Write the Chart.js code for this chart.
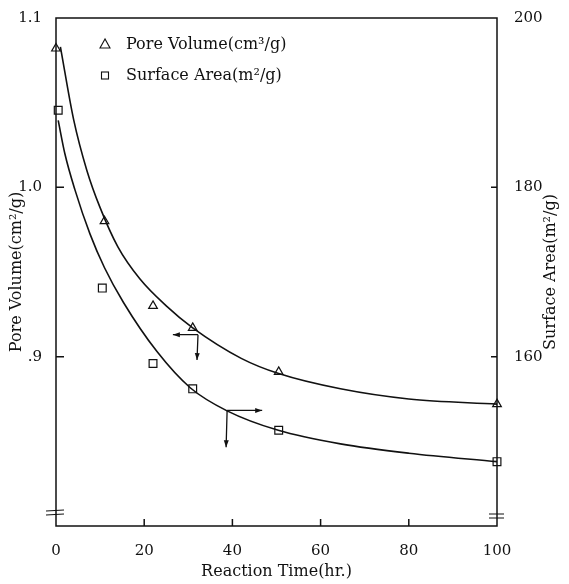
<!DOCTYPE html>
<html>
<head>
<meta charset="utf-8">
<script src="https://cdn.jsdelivr.net/npm/chart.js@4.4.0/dist/chart.umd.min.js"></script>
<style>
body { margin: 0; background: #fff; }
#wrap { width: 569px; height: 584px; }
</style>
</head>
<body>
<div id="wrap"><canvas id="poreChart"></canvas></div>
<script>
// measured points
const pvTime = [0, 11, 22, 31, 50.5, 100];
const pvValues = [1.082, 0.980, 0.930, 0.917, 0.891, 0.872];
const saTime = [0.5, 10.5, 22, 31, 50.5, 100];
const saValues = [189.1, 168.1, 159.2, 156.2, 151.3, 147.6];

// fitted curves
const pvCurveTime = [1, 4, 7, 10, 14, 19, 25, 31, 42, 50.5, 64.5, 80, 100];
const pvCurve = [1.083, 1.040, 1.010, 0.988, 0.965, 0.946, 0.930, 0.917, 0.899, 0.890, 0.881, 0.875, 0.872];
const saCurveTime = [0.5, 2, 4.3, 7.7, 11, 15.3, 22.9, 30.5, 38.8, 50.4, 64.5, 80, 100];
const saCurve = [187.9, 184.0, 179.7, 174.5, 170.5, 166.4, 160.6, 156.3, 153.6, 151.3, 149.7, 148.6, 147.6];

// axis ticks
const xTicks = [0, 20, 40, 60, 80, 100];
const pvTicks = [0.8, 0.9, 1.0, 1.1];
const pvTickLabels = ['', '.9', '1.0', '1.1'];
const saTicks = [140, 160, 180, 200];
const saTickLabels = ['', '160', '180', '200'];

const FONT = 'DejaVu Serif';
const INK = '#111';

function xy(xs, ys) {
    return xs.map((x, i) => ({ x: x, y: ys[i] }));
}

// arrows pointing to the axis each curve belongs to
const arrows = [
    { axis: 'y', x: 32.2, y: 0.913, toX: 26.5, toY: 0.898 },
    { axis: 'y2', x: 38.8, y: 153.65, toX: 46.75, toY: 149.3 }
];

function arrowHead(ctx, x1, y1, x2, y2) {
    const a = Math.atan2(y2 - y1, x2 - x1);
    ctx.beginPath();
    ctx.moveTo(x2, y2);
    ctx.lineTo(x2 - 7 * Math.cos(a) + 2.5 * Math.sin(a), y2 - 7 * Math.sin(a) - 2.5 * Math.cos(a));
    ctx.lineTo(x2 - 7 * Math.cos(a) - 2.5 * Math.sin(a), y2 - 7 * Math.sin(a) + 2.5 * Math.cos(a));
    ctx.closePath();
    ctx.fill();
}

const decor = {
    id: 'decor',
    afterDraw(chart) {
        const { ctx, chartArea: a, scales } = chart;
        const sx = scales.x, sy = scales.y, sy2 = scales.y2;
        ctx.save();
        ctx.strokeStyle = INK;
        ctx.fillStyle = INK;
        ctx.lineWidth = 1.5;

        // frame
        ctx.strokeRect(a.left, a.top, a.right - a.left, a.bottom - a.top);

        // inward ticks
        ctx.beginPath();
        xTicks.slice(1, -1).forEach(v => {
            const px = sx.getPixelForValue(v);
            ctx.moveTo(px, a.bottom);
            ctx.lineTo(px, a.bottom - 7);
        });
        pvTicks.slice(1, -1).forEach(v => {
            const py = sy.getPixelForValue(v);
            ctx.moveTo(a.left, py);
            ctx.lineTo(a.left + 8, py);
        });
        saTicks.slice(1, -1).forEach(v => {
            const py = sy2.getPixelForValue(v);
            ctx.moveTo(a.right, py);
            ctx.lineTo(a.right - 6, py);
        });
        ctx.stroke();

        // axis break marks
        ctx.lineWidth = 1.2;
        ctx.beginPath();
        ctx.moveTo(a.left - 10, a.bottom - 15); ctx.lineTo(a.left + 8, a.bottom - 16);
        ctx.moveTo(a.left - 10, a.bottom - 11); ctx.lineTo(a.left + 8, a.bottom - 12);
        ctx.moveTo(a.right - 8, a.bottom - 12); ctx.lineTo(a.right + 7, a.bottom - 12);
        ctx.moveTo(a.right - 8, a.bottom - 8); ctx.lineTo(a.right + 7, a.bottom - 8);
        ctx.stroke();

        // arrows
        ctx.lineWidth = 1.3;
        arrows.forEach(ar => {
            const ys = scales[ar.axis];
            const ox = sx.getPixelForValue(ar.x), oy = ys.getPixelForValue(ar.y);
            const hx = sx.getPixelForValue(ar.toX);
            const vy = ys.getPixelForValue(ar.toY);
            ctx.beginPath();
            ctx.moveTo(ox, oy); ctx.lineTo(hx, oy);
            ctx.moveTo(ox, oy); ctx.lineTo(ox - 1, vy);
            ctx.stroke();
            arrowHead(ctx, ox, oy, hx, oy);
            arrowHead(ctx, ox, oy, ox - 1, vy);
        });

        // legend
        ctx.lineWidth = 1.1;
        ctx.font = '16px "' + FONT + '"';
        ctx.textBaseline = 'middle';
        ctx.textAlign = 'left';
        const lx = a.left + 49;
        ctx.beginPath();
        ctx.moveTo(lx, a.top + 21);
        ctx.lineTo(lx - 5, a.top + 30);
        ctx.lineTo(lx + 5, a.top + 30);
        ctx.closePath();
        ctx.stroke();
        ctx.fillText('Pore Volume(cm³/g)', lx + 21, a.top + 27);
        ctx.strokeRect(lx - 3.5, a.top + 54, 7, 7);
        ctx.fillText('Surface Area(m²/g)', lx + 21, a.top + 58);

        // right axis title (reads bottom to top)
        ctx.translate(551, (a.top + a.bottom) / 2);
        ctx.rotate(-Math.PI / 2);
        ctx.textAlign = 'center';
        ctx.fillText('Surface Area(m²/g)', 0, 0);
        ctx.restore();
    }
};

const ctx = document.getElementById('poreChart').getContext('2d');

new Chart(ctx, {
    type: 'scatter',
    data: {
        datasets: [
            {
                label: 'Pore Volume',
                data: xy(pvTime, pvValues),
                yAxisID: 'y',
                pointStyle: 'triangle',
                pointRadius: 5,
                borderColor: INK,
                borderWidth: 1.2,
                backgroundColor: 'rgba(0,0,0,0)',
                clip: false
            },
            {
                label: 'Surface Area',
                data: xy(saTime, saValues),
                yAxisID: 'y2',
                pointStyle: 'rect',
                pointRadius: 5.5,
                borderColor: INK,
                borderWidth: 1.2,
                backgroundColor: 'rgba(0,0,0,0)',
                clip: false
            },
            {
                label: 'PV fit',
                data: xy(pvCurveTime, pvCurve),
                yAxisID: 'y',
                showLine: true,
                pointRadius: 0,
                borderColor: INK,
                borderWidth: 1.6,
                cubicInterpolationMode: 'monotone'
            },
            {
                label: 'SA fit',
                data: xy(saCurveTime, saCurve),
                yAxisID: 'y2',
                showLine: true,
                pointRadius: 0,
                borderColor: INK,
                borderWidth: 1.6,
                cubicInterpolationMode: 'monotone'
            }
        ]
    },
    options: {
        responsive: true,
        maintainAspectRatio: false,
        animation: false,
        layout: { padding: { top: 13 } },
        plugins: {
            legend: { display: false },
            tooltip: { enabled: false }
        },
        scales: {
            x: {
                type: 'linear',
                min: 0,
                max: 100,
                afterBuildTicks: s => { s.ticks = xTicks.map(v => ({ value: v })); },
                afterFit: s => { s.height = 58; },
                grid: { display: false },
                border: { display: false },
                ticks: {
                    color: INK,
                    padding: 8,
                    maxRotation: 0,
                    font: { family: FONT, size: 15 }
                },
                title: {
                    display: true,
                    text: 'Reaction Time(hr.)',
                    color: INK,
                    padding: { top: 0, bottom: 3 },
                    font: { family: FONT, size: 16 }
                }
            },
            y: {
                position: 'left',
                min: 0.8,
                max: 1.1,
                afterBuildTicks: s => { s.ticks = pvTicks.map(v => ({ value: v })); },
                afterFit: s => { s.width = 56; },
                grid: { display: false },
                border: { display: false },
                ticks: {
                    color: INK,
                    padding: 6,
                    font: { family: FONT, size: 15 },
                    callback: (v, i) => pvTickLabels[i]
                },
                title: {
                    display: true,
                    text: 'Pore Volume(cm²/g)',
                    color: INK,
                    padding: { top: 7, bottom: 0 },
                    font: { family: FONT, size: 16 }
                }
            },
            y2: {
                position: 'right',
                min: 140,
                max: 200,
                afterBuildTicks: s => { s.ticks = saTicks.map(v => ({ value: v })); },
                afterFit: s => { s.width = 72; },
                grid: { display: false },
                border: { display: false },
                ticks: {
                    color: INK,
                    padding: 9,
                    font: { family: FONT, size: 15 },
                    callback: (v, i) => saTickLabels[i]
                }
            }
        }
    },
    plugins: [decor]
});
</script>
</body>
</html>
